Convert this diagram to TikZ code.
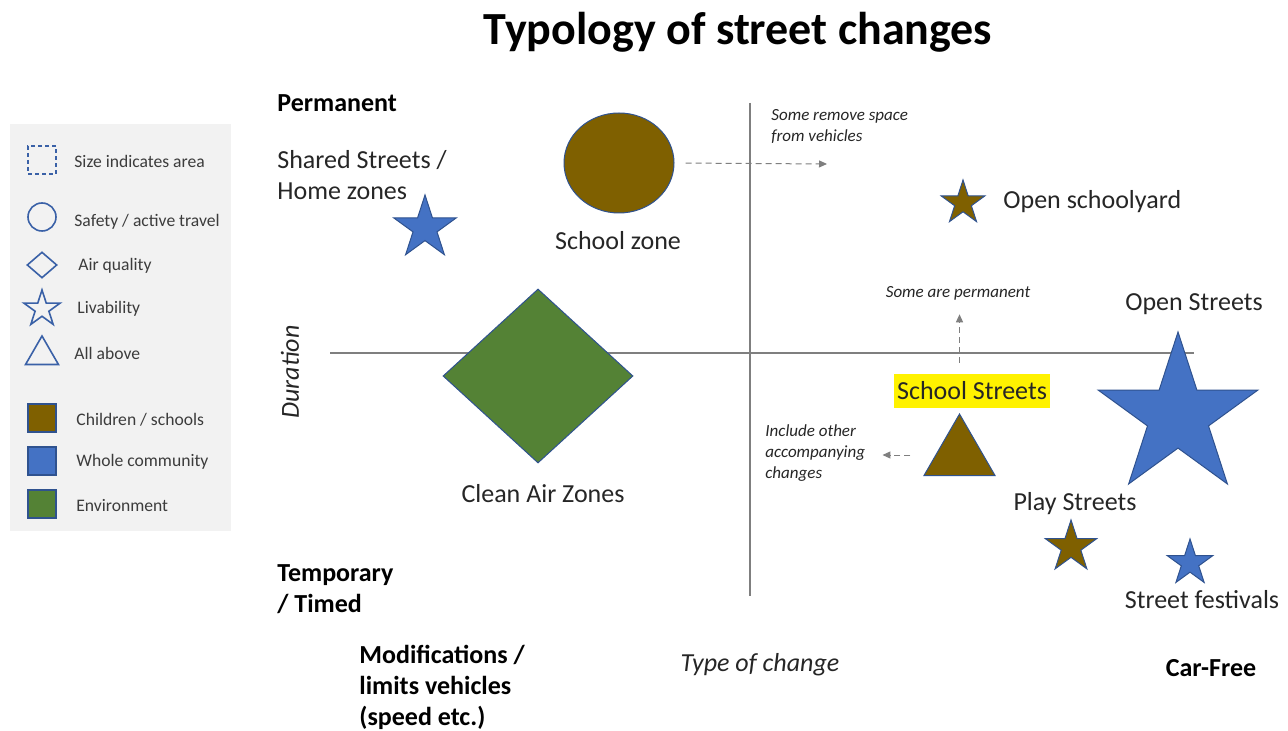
\documentclass[tikz,border=0pt]{standalone}
\usepackage{fontspec}
\setmainfont{Carlito}
\usetikzlibrary{shapes.geometric,arrows.meta}
\definecolor{kidbrown}{HTML}{7F6000}
\definecolor{allblue}{HTML}{4472C4}
\definecolor{envgreen}{HTML}{548235}
\definecolor{edgeblue}{HTML}{2F528F}
\definecolor{keygray}{HTML}{F2F2F2}
\definecolor{axisgray}{HTML}{7F7F7F}
\definecolor{inkgray}{HTML}{262626}
\tikzset{
  lbl/.style={font=\fontsize{13}{15.5}\selectfont, text=inkgray, inner sep=0pt, align=left},
  axlbl/.style={font=\fontsize{13}{15.5}\selectfont\bfseries, text=black, inner sep=0pt, align=left},
  note/.style={font=\fontsize{8.5}{10.5}\selectfont\itshape, text=inkgray, inner sep=0pt, align=left, anchor=west},
  keytxt/.style={font=\fontsize{8.8}{10}\selectfont, text=inkgray!90, inner sep=0pt, anchor=west},
  keyshape/.style={draw=allblue!85!black, line width=0.8pt, inner sep=0pt},
  fivestar/.style={star, star points=5, star point ratio=2.618, draw=edgeblue, line width=0.5pt, inner sep=0pt, minimum size=#1},
  hint/.style={draw=axisgray, densely dashed, line width=0.5pt, -{Triangle[length=4pt,width=3.5pt]}},
}
\begin{document}
\begin{tikzpicture}[x=0.5pt, y=-0.5pt]
\fill[white] (0,0) rectangle (1288,731);
\useasboundingbox (0,0) rectangle (1288,731);

\node[font=\fontsize{23}{27}\selectfont\bfseries, inner sep=0pt] (title) at (738,32) {Typology of street changes};

\fill[keygray] (10,124) rectangle (231,531);
\node[keyshape, dash pattern=on 2pt off 1.5pt, minimum size=14pt] (ksize) at (42,160) {};
\node[keytxt] at (74,161) {Size indicates area};
\node[keyshape, circle, minimum size=14pt] (ksafe) at (42,217) {};
\node[keytxt] at (74,222) {Safety / active travel};
\node[keyshape, diamond, minimum width=15pt, minimum height=13pt] (kair) at (42,265) {};
\node[keytxt] at (78,266) {Air quality};
\node[keyshape, star, star points=5, star point ratio=2.618, minimum size=19pt] (kliv) at (42,309) {};
\node[keytxt] at (77,309) {Livability};
\node[keyshape, regular polygon, regular polygon sides=3, minimum size=19pt] (kall) at (42,355) {};
\node[keytxt] at (74,353) {All above};
\node[keyshape, draw=edgeblue, fill=kidbrown, minimum size=14pt] (kkid) at (42,418) {};
\node[keytxt] at (76,420) {Children / schools};
\node[keyshape, draw=edgeblue, fill=allblue, minimum size=14pt] (kcom) at (42,461) {};
\node[keytxt] at (76,462) {Whole community};
\node[keyshape, draw=edgeblue, fill=envgreen, minimum size=14pt] (kenv) at (42,504) {};
\node[keytxt] at (76,506) {Environment};

\draw[axisgray, line width=0.6pt] (750,103) -- (750,596);
\draw[axisgray, line width=0.6pt] (330,353) -- (1194,353);

\node[axlbl, anchor=west] (perm) at (277,103) {Permanent};
\node[axlbl, anchor=west] (temp) at (277,589) {Temporary\\/ Timed};
\node[axlbl, anchor=west] (modif) at (359,687) {Modifications /\\limits vehicles\\(speed etc.)};
\node[axlbl] (carfree) at (1211,668) {Car-Free};
\node[lbl, font=\fontsize{13}{15.5}\selectfont\itshape] (kind) at (760,665) {Type of change};
\node[lbl, font=\fontsize{13}{15.5}\selectfont\itshape, rotate=90] (dur) at (290,372) {Duration};

\node[lbl, anchor=west] (shared) at (277,175) {Shared Streets /\\Home zones};
\node[fivestar=33pt, fill=allblue] (sharedstar) at (425,228) {};

\node[ellipse, fill=kidbrown, draw=edgeblue, line width=0.5pt, inner sep=0pt, minimum width=55pt, minimum height=50pt] (zone) at (619,163) {};
\node[lbl] (zonelbl) at (618,241) {School zone};
\node[note] (space) at (771,126) {Some remove space\\from vehicles};
\coordinate (spacetip) at (827,164);
\draw[hint, shorten <=5.5pt] (zone.east) -- (spacetip);

\node[diamond, fill=envgreen, draw=edgeblue, line width=0.5pt, inner sep=0pt, minimum width=95pt, minimum height=87pt] (caz) at (538,376) {};
\node[lbl] (cazlbl) at (543,494) {Clean Air Zones};

\node[fivestar=23pt, fill=kidbrown] (yard) at (963,203) {};
\node[lbl, anchor=west] (yardlbl) at (1003,202) {Open schoolyard};

\node[note, anchor=center] (always) at (958,293) {Some are permanent};
\node[lbl, fill=yellow, inner xsep=1.5pt, minimum height=17pt] (ssl) at (972,391) {School Streets};
\node[regular polygon, regular polygon sides=3, fill=kidbrown, draw=edgeblue, line width=0.5pt, inner sep=0pt, minimum size=41pt] (tri) at (959.5,455) {};
\node[note] (incl) at (765,453) {Include other\\accompanying\\changes};
\draw[hint, shorten <=5.5pt, shorten >=7pt] (tri.north |- ssl.north) -- (tri.north |- always.south);
\draw[hint, shorten <=12.5pt, shorten >=8.5pt] (tri.west) -- (incl.east |- tri.west);

\node[lbl] (openlbl) at (1194,304) {Open Streets};
\node[fivestar=84pt, fill=allblue] (open) at (1178,416) {};

\node[lbl] (playlbl) at (1075,504) {Play Streets};
\node[fivestar=27pt, fill=kidbrown] (play) at (1071,547) {};
\node[fivestar=24pt, fill=allblue] (fest) at (1190,563) {};
\node[lbl] (festlbl) at (1202,600) {Street festivals};
\end{tikzpicture}
\end{document}
